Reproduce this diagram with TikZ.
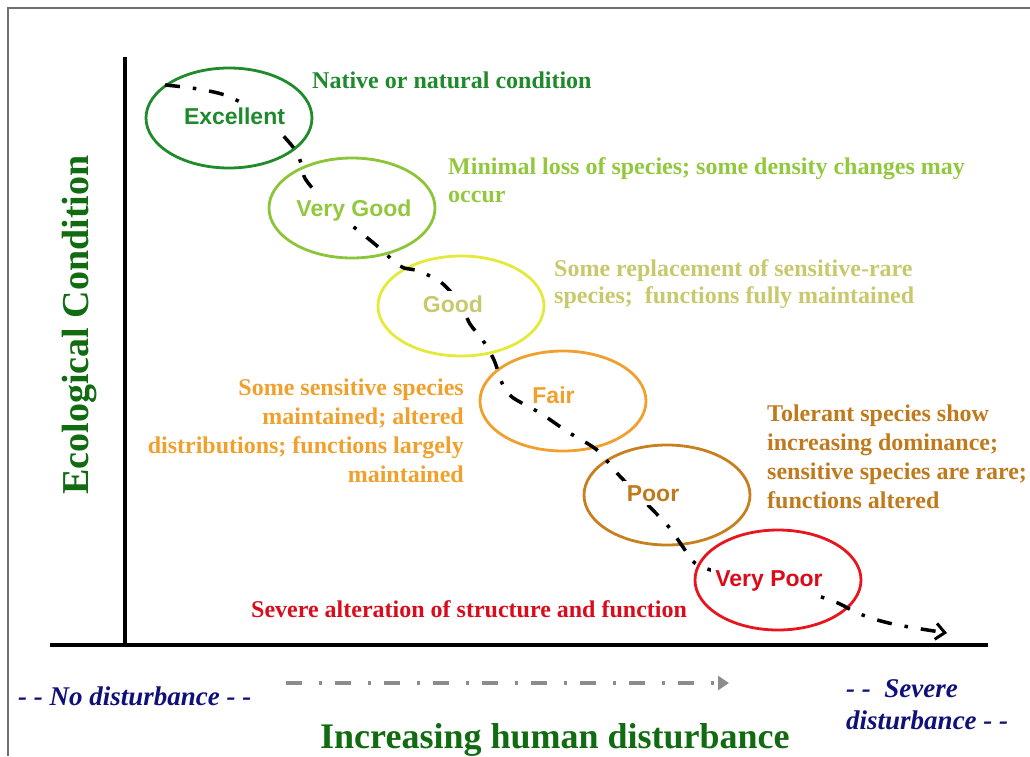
\documentclass[tikz,border=0pt]{standalone}
\usepackage{fontspec}
\setmainfont{Liberation Serif}
\setsansfont{Liberation Sans}
\usetikzlibrary{shapes.geometric,arrows.meta}
\definecolor{cExc}{HTML}{1F8B2B}
\definecolor{cExcT}{HTML}{1E8A2C}
\definecolor{cVG}{HTML}{8CC43A}
\definecolor{cVGT}{HTML}{92C83E}
\definecolor{cG}{HTML}{E5EA3A}
\definecolor{cGT}{HTML}{C8C86C}
\definecolor{cF}{HTML}{F0A02C}
\definecolor{cP}{HTML}{C8801E}
\definecolor{cPT}{HTML}{C07A1E}
\definecolor{cVP}{HTML}{E8141E}
\definecolor{cVPT}{HTML}{DA0C1C}
\definecolor{cAxisT}{HTML}{116B11}
\definecolor{cNavy}{HTML}{10107A}
\definecolor{cFrame}{HTML}{707070}
\definecolor{cGrayArr}{HTML}{8C8C8C}
\tikzset{
  oval/.style={ellipse, draw=#1, line width=2.8pt, minimum width=166pt, minimum height=100pt, inner sep=0pt},
  ovaltxt/.style={font=\fontsize{23}{27}\selectfont\sffamily\bfseries, text=#1, fill=white, inner sep=4pt, anchor=base},
  desc/.style={font=\fontsize{24}{29}\selectfont\bfseries, text=#1, inner sep=0pt},
  axisline/.style={line width=3.5pt, black},
  curveline/.style={line width=3.5pt, black, dash pattern=on 15pt off 13pt on 3.5pt off 13pt, -{Straight Barb[length=9pt,width=16pt,line width=3pt]}},
  grayarrow/.style={line width=4.5pt, cGrayArr, dash pattern=on 16pt off 17pt on 3pt off 13pt, -{Triangle[length=11pt,width=14pt]}},
  navytxt/.style={font=\fontsize{27}{32}\selectfont\bfseries\itshape, text=cNavy, inner sep=0pt},
}
\begin{document}
\begin{tikzpicture}[x=1pt,y=-1pt]
\useasboundingbox (0,0) rectangle (1030,756);
% frame
\coordinate (f1) at (8,756);
\coordinate (f2) at (8,8);
\coordinate (f3) at (1030,8);
\draw[line width=2pt, cFrame] (f1) -- (f2) -- (f3);
% axes
\coordinate (ytop) at (125,57);
\coordinate (orig) at (125,645);
\coordinate (xl) at (50,645);
\coordinate (xr) at (988,645);
\draw[axisline] (ytop) -- (orig);
\draw[axisline] (xl) -- (xr);
% ellipses
\node[oval=cExc] (exc) at (229,118) {};
\node[oval=cVG] (vg) at (352,208) {};
\node[oval=cG] (good) at (461,306) {};
\node[oval=cF] (fair) at (563,401) {};
\node[oval=cP] (poor) at (667,495) {};
\node[oval=cVP] (vp) at (778,580) {};
% curve
\coordinate (cs) at (165,85);
\coordinate (ce) at (947,633);
\draw[curveline] plot[smooth, tension=0.55] coordinates {(cs) (198,89) (230,97) (265,118) (293,147) (301,163) (306,180) (330,207) (355,228) (376,245) (400,266) (415,270) (430,276) (443,284) (460,303) (470,324) (482,339) (494,360) (502,383) (512,397) (540,413) (568,432) (597,450) (616,472) (640,497) (668,526) (683,547) (698,565) (740,578) (790,588) (833,601) (860,614) (893,624) (ce)};
% ellipse labels
\node[ovaltxt=cExcT] (excT) at (234.5,124) {Excellent};
\node[ovaltxt=cVGT] (vgT) at (354,216) {Very Good};
\node[ovaltxt=cGT] (goodT) at (453,312) {Good};
\node[ovaltxt=cF] (fairT) at (553.5,403) {Fair};
\node[ovaltxt=cPT] (poorT) at (653,501) {Poor};
\node[ovaltxt=cVPT] (vpT) at (769,586) {Very Poor};
% descriptions
\node[desc=cExcT, anchor=base west] (dExc) at (312,88) {Native or natural condition};
\node[desc=cVGT, anchor=base west] (dVG) at (448,174) {\fontsize{24}{28}\selectfont\begin{tabular}[t]{@{}l@{}}Minimal loss of species; some density changes may\\ occur\end{tabular}};
\node[desc=cGT, anchor=base west] (dG) at (554,276) {\fontsize{24}{27}\selectfont\begin{tabular}[t]{@{}l@{}}Some replacement of sensitive-rare\\ species;\ \ functions fully maintained\end{tabular}};
\node[desc=cF, anchor=base east] (dF) at (464,395) {\begin{tabular}[t]{@{}r@{}}Some sensitive species\\ maintained; altered\\ distributions; functions largely\\ maintained\end{tabular}};
\node[desc=cPT, anchor=base west] (dP) at (767,421) {\begin{tabular}[t]{@{}l@{}}Tolerant species show\\ increasing dominance;\\ sensitive species are rare;\\ functions altered\end{tabular}};
\node[desc=cVPT, anchor=base west] (dVP) at (251,617) {Severe alteration of structure and function};
% axis titles
\node[font=\fontsize{38}{44}\selectfont\bfseries, text=cAxisT, rotate=90, anchor=base, inner sep=0pt] (ylab) at (88,325) {Ecological Condition};
\node[font=\fontsize{36}{42}\selectfont\bfseries, text=cAxisT, anchor=base west, inner sep=0pt] (xlab) at (320,748) {Increasing human disturbance};
% disturbance labels
\node[navytxt, anchor=base west] (nodist) at (18,705) {- - No disturbance - -};
\node[navytxt, anchor=base west] (sevdist) at (846,697) {\begin{tabular}[t]{@{}l@{}}- -\ \ Severe\\ disturbance - -\end{tabular}};
% gray arrow
\coordinate (ga) at (286,683);
\coordinate (gb) at (729,683);
\draw[grayarrow] (ga) -- (gb);
\end{tikzpicture}
\end{document}
